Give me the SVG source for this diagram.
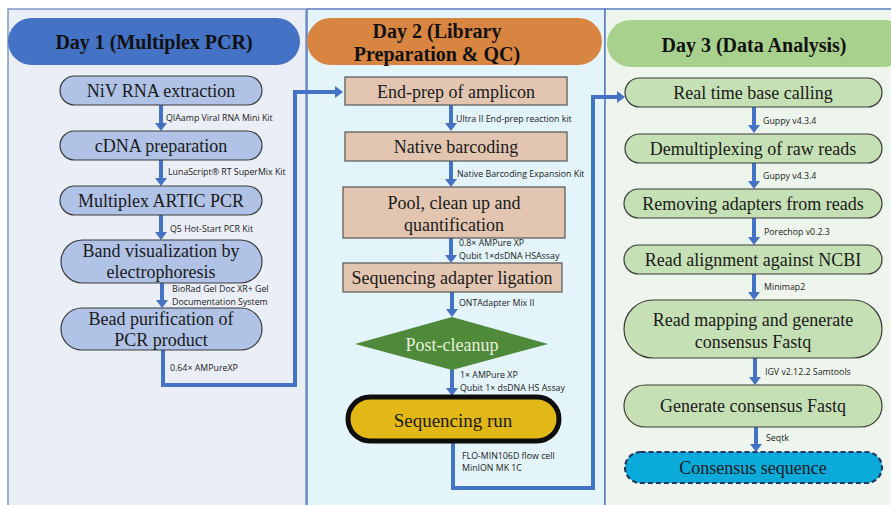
<svg xmlns="http://www.w3.org/2000/svg" width="891" height="505" viewBox="0 0 891 505">
<defs>
<marker id="ah" viewBox="0 0 8 12" refX="0" refY="6" markerWidth="8" markerHeight="12" markerUnits="userSpaceOnUse" orient="auto">
<path d="M0,0 L8,6 L0,12 z" fill="#4472c4"/>
</marker>
</defs>
<style>
.nt{font-family:"Liberation Serif","Times New Roman",serif;font-size:18px;fill:#1a1a1a;text-anchor:middle;dominant-baseline:central}
.hd{font-family:"Liberation Serif","Times New Roman",serif;font-size:20px;font-weight:bold;fill:#111;text-anchor:middle;dominant-baseline:central}
.lb{font-family:"Open Sans","Liberation Sans",sans-serif;font-size:8.8px;fill:#222}
.b{fill:#b0c3e6;stroke:#3a3a3a;stroke-width:1.2}
.o{fill:#e2c6b2;stroke:#555;stroke-width:1.2}
.g{fill:#c6e0b5;stroke:#3a3a3a;stroke-width:1.2}
.c{fill:none;stroke:#4472c4;stroke-width:4;marker-end:url(#ah)}
</style>
<rect width="891" height="505" fill="#ffffff"/>
<g id="panels">
<rect x="8" y="9" width="298" height="500" fill="#eaeef7" stroke="#7f98c4" stroke-width="1.5"/>
<rect x="307" y="9" width="298" height="500" fill="#e3f4fb" stroke="#5a7cbf" stroke-width="1.5"/>
<rect x="605" y="9" width="290" height="500" fill="#eef5ec" stroke="#5a7cbf" stroke-width="1.5"/>
</g>
<g id="h1"><rect x="8" y="18" width="292" height="47" rx="23.5" fill="#4472c4"/><text class="hd" x="154" y="42">Day 1 (Multiplex PCR)</text></g>
<g id="h2"><rect x="307" y="18" width="295" height="47" rx="23.5" fill="#d98542"/><text class="hd" x="437" y="31">Day 2 (Library</text><text class="hd" x="437" y="54">Preparation &amp; QC)</text></g>
<g id="h3"><rect x="607" y="20" width="300" height="47" rx="23.5" fill="#a9d18e"/><text class="hd" x="754" y="45">Day 3 (Data Analysis)</text></g>

<g id="connectors">
<line class="c" x1="161" y1="105" x2="161" y2="123"/>
<line class="c" x1="161" y1="160" x2="161" y2="178"/>
<line class="c" x1="161" y1="215" x2="161" y2="232"/>
<line class="c" x1="162" y1="283" x2="162" y2="300"/>
<path class="c" d="M163,350 V385 H295 V92 H335"/>
<line class="c" x1="451" y1="105" x2="451" y2="123"/>
<line class="c" x1="451" y1="161" x2="451" y2="179"/>
<line class="c" x1="451" y1="238" x2="451" y2="255"/>
<line class="c" x1="452" y1="292" x2="452" y2="309"/>
<line class="c" x1="452" y1="369" x2="452" y2="388"/>
<path class="c" d="M453,442 V488 H593 V97 H617"/>
<line class="c" x1="754" y1="107" x2="754" y2="125"/>
<line class="c" x1="754" y1="163" x2="754" y2="181"/>
<line class="c" x1="754" y1="218" x2="754" y2="237"/>
<line class="c" x1="754" y1="274" x2="754" y2="292"/>
<line class="c" x1="755" y1="358" x2="755" y2="377"/>
<line class="c" x1="756" y1="427" x2="756" y2="444"/>
<text class="lb" x="166" y="121">QIAamp Viral RNA Mini Kit</text>
<text class="lb" x="168" y="175">LunaScript® RT SuperMix Kit</text>
<text class="lb" x="170" y="232">Q5 Hot-Start PCR Kit</text>
<text class="lb" x="172" y="292">BioRad Gel Doc XR+ Gel</text>
<text class="lb" x="172" y="305">Documentation System</text>
<text class="lb" x="170" y="371">0.64× AMPureXP</text>
<text class="lb" x="456" y="122">Ultra II End-prep reaction kit</text>
<text class="lb" x="457" y="177">Native Barcoding Expansion Kit</text>
<text class="lb" x="459" y="246">0.8× AMPure XP</text>
<text class="lb" x="459" y="259">Qubit 1×dsDNA HSAssay</text>
<text class="lb" x="459" y="306">ONTAdapter Mix II</text>
<text class="lb" x="460" y="378">1× AMPure XP</text>
<text class="lb" x="460" y="391">Qubit 1× dsDNA HS Assay</text>
<text class="lb" x="462" y="459">FLO-MIN106D flow cell</text>
<text class="lb" x="462" y="471">MinION MK 1C</text>
<text class="lb" x="763" y="124">Guppy v4.3.4</text>
<text class="lb" x="763" y="179">Guppy v4.3.4</text>
<text class="lb" x="764" y="235">Porechop v0.2.3</text>
<text class="lb" x="764" y="290">Minimap2</text>
<text class="lb" x="765" y="375">IGV v2.12.2 Samtools</text>
<text class="lb" x="766" y="441">Seqtk</text>
</g>

<g id="n1"><rect class="b" x="60" y="76" width="202" height="29" rx="14.5"/><text class="nt" x="161" y="91">NiV RNA extraction</text></g>
<g id="n2"><rect class="b" x="60" y="131" width="202" height="29" rx="14.5"/><text class="nt" x="161" y="146">cDNA preparation</text></g>
<g id="n3"><rect class="b" x="60" y="186" width="202" height="29" rx="14.5"/><text class="nt" x="161" y="201">Multiplex ARTIC PCR</text></g>
<g id="n4"><rect class="b" x="61" y="240" width="201" height="43" rx="21.5"/><text class="nt" x="161" y="251">Band visualization by</text><text class="nt" x="161" y="272">electrophoresis</text></g>
<g id="n5"><rect class="b" x="61" y="308" width="201" height="42" rx="21"/><text class="nt" x="161" y="319">Bead purification of</text><text class="nt" x="161" y="340">PCR product</text></g>

<g id="n6"><rect class="o" x="345" y="77" width="222" height="28"/><text class="nt" x="456" y="92">End-prep of amplicon</text></g>
<g id="n7"><rect class="o" x="345" y="132" width="222" height="29"/><text class="nt" x="456" y="147">Native barcoding</text></g>
<g id="n8"><rect class="o" x="343" y="187" width="222" height="51"/><text class="nt" x="454" y="203">Pool, clean up and</text><text class="nt" x="454" y="225">quantification</text></g>
<g id="n9"><rect class="o" x="343" y="263" width="219" height="29"/><text class="nt" x="452" y="278">Sequencing adapter ligation</text></g>
<g id="n10"><polygon points="452,317 548,344 452,370 355,344" fill="#4f8a3a"/><text class="nt" x="452" y="345" style="fill:#e6f0dc">Post-cleanup</text></g>
<g id="n11"><rect x="348" y="397" width="211" height="44" rx="22" fill="#e2b816" stroke="#0d0d0d" stroke-width="5"/><text class="nt" x="453" y="420" style="font-size:19px">Sequencing run</text></g>

<g id="n12"><rect class="g" x="625" y="78" width="257" height="29" rx="14.5"/><text class="nt" x="753" y="93">Real time base calling</text></g>
<g id="n13"><rect class="g" x="625" y="134" width="257" height="29" rx="14.5"/><text class="nt" x="753" y="149">Demultiplexing of raw reads</text></g>
<g id="n14"><rect class="g" x="624" y="189" width="258" height="29" rx="14.5"/><text class="nt" x="753" y="204">Removing adapters from reads</text></g>
<g id="n15"><rect class="g" x="624" y="245" width="258" height="29" rx="14.5"/><text class="nt" x="753" y="260">Read alignment against NCBI</text></g>
<g id="n16"><rect class="g" x="624" y="300" width="258" height="58" rx="29"/><text class="nt" x="753" y="320">Read mapping and generate</text><text class="nt" x="753" y="342">consensus Fastq</text></g>
<g id="n17"><rect class="g" x="624" y="385" width="258" height="42" rx="21"/><text class="nt" x="753" y="406">Generate consensus Fastq</text></g>
<g id="n18"><rect x="625" y="452" width="257" height="31" rx="15.5" fill="#0aaadb" stroke="#1f3864" stroke-width="2.2" stroke-dasharray="5,3"/><text class="nt" x="753" y="468">Consensus sequence</text></g>
</svg>
